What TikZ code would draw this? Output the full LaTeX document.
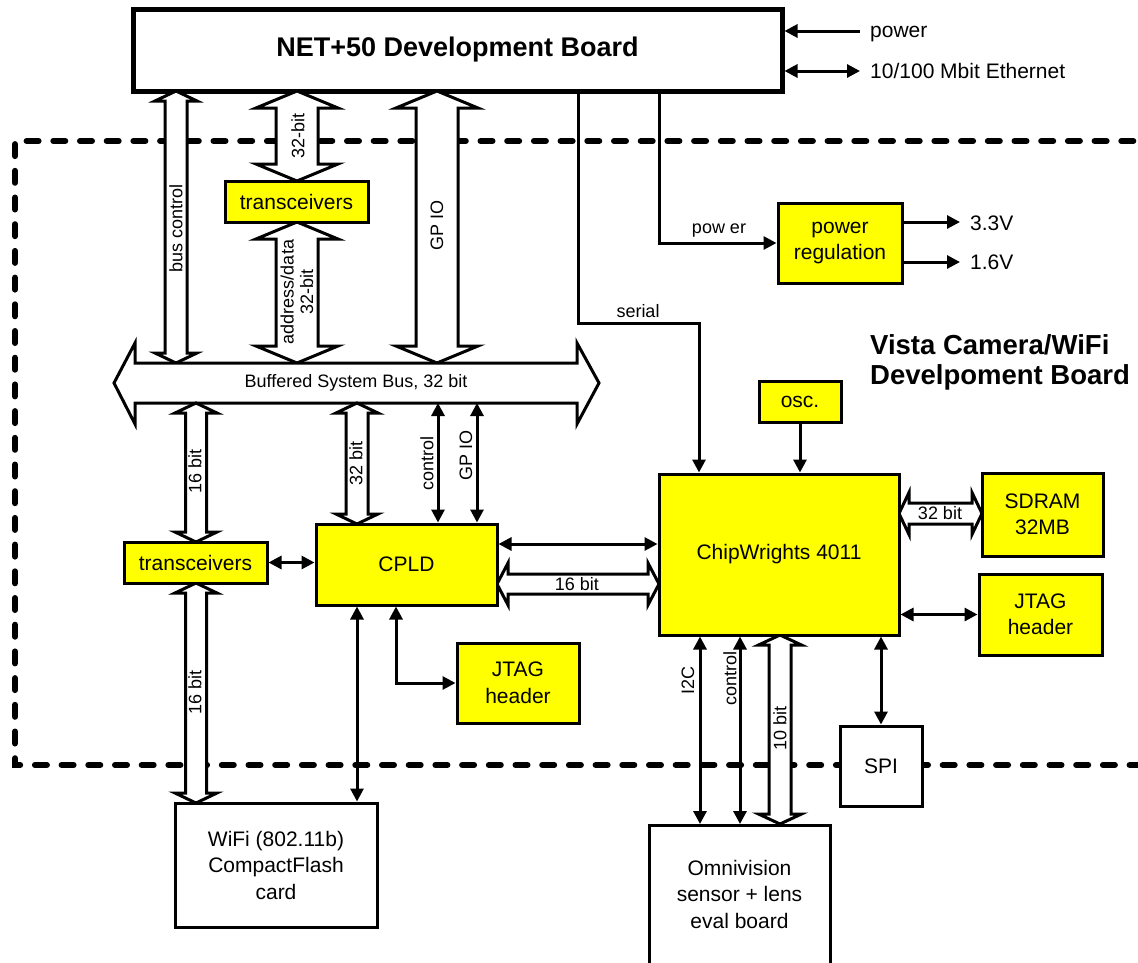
\documentclass[tikz,border=0pt]{standalone}
\usepackage{fontspec}
\setmainfont{Liberation Sans}
\usetikzlibrary{arrows.meta,calc}
\definecolor{chipyellow}{RGB}{255,255,0}
\newcommand{\fmain}{\fontsize{21}{26.5}\selectfont}
\newcommand{\fsmall}{\fontsize{18}{19.5}\selectfont}
\newcommand{\hollowV}[6]{% x, ytop, ybot, shaft half width, head half width, head length
  \filldraw[hollow] (#1,#2) -- (#1+#5,#2+#6) -- (#1+#4,#2+#6) -- (#1+#4,#3-#6) -- (#1+#5,#3-#6) -- (#1,#3) -- (#1-#5,#3-#6) -- (#1-#4,#3-#6) -- (#1-#4,#2+#6) -- (#1-#5,#2+#6) -- cycle;}
\newcommand{\hollowH}[6]{% y, xleft, xright, shaft half height, head half height, head length
  \filldraw[hollow] (#2,#1) -- (#2+#6,#1-#5) -- (#2+#6,#1-#4) -- (#3-#6,#1-#4) -- (#3-#6,#1-#5) -- (#3,#1) -- (#3-#6,#1+#5) -- (#3-#6,#1+#4) -- (#2+#6,#1+#4) -- (#2+#6,#1+#5) -- cycle;}
\begin{document}
\begin{tikzpicture}[x=1pt,y=-1pt,
  >={Triangle[length=13pt,width=13pt]},
  conn/.style={line width=3pt},
  hollow/.style={draw=black,fill=white,line width=3pt,line join=miter},
  ybox/.style={draw,line width=3pt,fill=chipyellow,inner sep=0pt,align=center,font=\fmain},
  wbox/.style={draw,line width=3pt,fill=white,inner sep=0pt,align=center,font=\fmain},
  lbl/.style={inner sep=0pt,font=\fsmall,align=center},
  lblm/.style={inner sep=0pt,font=\fmain},
  boardline/.style={line width=6pt,dash pattern=on 12pt off 14.7pt,line cap=round}]
\useasboundingbox (0,0) rectangle (1138,962);

% camera board outline
\draw[boardline] (1160,141) -- (15,141) -- (15,765) -- (1160,765);

% NET+50 board
\node[draw,line width=5pt,fill=white,minimum width=649pt,minimum height=82pt,inner sep=0pt,
      font=\fontsize{27}{30}\selectfont\bfseries] (net) at (457.5,50) {NET+50 Development Board};

% hollow buses above the system bus
\hollowV{176}{91}{363}{11}{21}{10}
\hollowV{297}{91}{181}{21}{41}{17}
\hollowV{297}{222}{363}{21}{41}{17}
\hollowV{437}{91}{363}{21}{41}{17}

% system bus
\filldraw[hollow] (114,383) -- (135,343) -- (135,363) -- (577,363) -- (577,343) -- (599,383)
  -- (577,424) -- (577,403) -- (135,403) -- (135,424) -- cycle;
\node[lbl] (buslbl) at (356,383) {Buffered System Bus, 32 bit};

% hollow buses below
\hollowV{196}{403}{542}{10.5}{21}{10}
\hollowV{196}{583}{803}{10.5}{21}{10}
\hollowV{357}{403}{524}{11}{21}{10}
\hollowV{780}{635}{824}{11}{21.5}{10}
\hollowH{584}{497}{659}{10}{21}{11}
\hollowH{513.5}{899}{982}{10.5}{21}{10}

% boxes
\node[ybox,minimum width=143pt,minimum height=41pt] (trA) at (296.5,201.5) {transceivers};
\node[ybox,minimum width=124pt,minimum height=80pt] (pwr) at (840,243) {power\\regulation};
\node[ybox,minimum width=82pt,minimum height=41pt] (osc) at (800,401.5) {osc.};
\node[ybox,minimum width=240pt,minimum height=161pt] (cw) at (779,554.5) {ChipWrights 4011};
\node[ybox,minimum width=121pt,minimum height=83pt] (sdram) at (1042.5,514.5) {SDRAM\\32MB};
\node[ybox,minimum width=123pt,minimum height=81pt] (jtagR) at (1040.5,614.5) {JTAG\\header};
\node[ybox,minimum width=143pt,minimum height=41pt] (trB) at (195.5,562.5) {transceivers};
\node[ybox,minimum width=181pt,minimum height=81pt] (cpld) at (406.5,564.5) {CPLD};
\node[ybox,minimum width=122pt,minimum height=80pt] (jtagL) at (518,683) {JTAG\\header};
\node[wbox,minimum width=202pt,minimum height=124pt] (wifi) at (276,865) {WiFi (802.11b)\\CompactFlash\\card};
\node[wbox,minimum width=82pt,minimum height=80pt] (spi) at (881,766) {SPI};
\node[wbox,anchor=north,minimum width=181pt,minimum height=200pt] (omni) at (739.5,824) {};
\node[lblm,align=center] (omnitxt) at (739.5,894) {Omnivision\\sensor + lens\\eval board};

% labels on hollow buses
\node[lbl,rotate=90] at (176,228) {bus control};
\node[lbl,rotate=90] at (298,136) {32-bit};
\node[lbl,rotate=90] at (297,292) {address/data\\32-bit};
\node[lbl,rotate=90] at (437,225) {GP IO};
\node[lbl,rotate=90] at (195,471) {16 bit};
\node[lbl,rotate=90] at (195,692) {16 bit};
\node[lbl,rotate=90] at (356,463) {32 bit};
\node[lbl,rotate=90] at (427,463) {control};
\node[lbl,rotate=90] at (466,455) {GP IO};
\node[lbl] at (577,584) {16 bit};
\node[lbl] at (940,513.5) {32 bit};
\node[lbl,rotate=90] at (688,680) {I2C};
\node[lbl,rotate=90] at (730,678) {control};
\node[lbl,rotate=90] at (780,728) {10 bit};

% external connections of the NET+50 board
\coordinate (pin) at (860,31);
\coordinate (ein) at (860,71);
\draw[conn,->] (pin) -- (pin -| net.east);
\draw[conn,<->] (ein -| net.east) -- (ein);
\node[lblm,anchor=base west] at (870,37) {power};
\node[lblm,anchor=base west] at (870,78) {10/100 Mbit Ethernet};

% serial
\coordinate (s1) at (578,323);
\coordinate (s2) at (699,323);
\draw[conn,->] (s1 |- net.south) -- (s1) -- (s2) -- (s2 |- cw.north);
\node[lbl,anchor=base] at (638,317) {serial};

% power
\coordinate (p1) at (659,243);
\draw[conn,->] (p1 |- net.south) |- (pwr.west);
\node[lbl,anchor=base] at (719,233) {pow er};
\coordinate (v33) at (960,222);
\coordinate (v16) at (960,262);
\draw[conn,->] (v33 -| pwr.east) -- (v33);
\draw[conn,->] (v16 -| pwr.east) -- (v16);
\node[lblm,anchor=base west] at (970,230) {3.3V};
\node[lblm,anchor=base west] at (970,269) {1.6V};

% ChipWrights connections
\draw[conn,->] (osc.south) -- (osc.south |- cw.north);
\draw[conn,<->] (jtagR.west -| cw.east) -- (jtagR.west);
\draw[conn,<->] (spi.north |- cw.south) -- (spi.north);
\coordinate (i2c) at (700,700);
\coordinate (ctl) at (740,700);
\draw[conn,<->] (i2c |- cw.south) -- (i2c |- omni.north);
\draw[conn,<->] (ctl |- cw.south) -- (ctl |- omni.north);

% CPLD connections
\draw[conn,<->] (trB.east) -- (trB.east -| cpld.west);
\coordinate (cc) at (600,544);
\draw[conn,<->] (cc -| cpld.east) -- (cc -| cw.west);
\coordinate (cwf) at (357,700);
\draw[conn,<->] (cwf |- cpld.south) -- (cwf |- wifi.north);
\coordinate (cj) at (396,683);
\draw[conn,<->] (cj |- cpld.south) |- (jtagL.west);
\coordinate (bc) at (438,403);
\coordinate (bg) at (477,403);
\draw[conn,<->] (bc) -- (bc |- cpld.north);
\draw[conn,<->] (bg) -- (bg |- cpld.north);

% title of camera board
\node[inner sep=0pt,anchor=north west,align=left,font=\fontsize{27.5}{29.5}\selectfont\bfseries] (vista) at (870,334.5)
  {Vista Camera/WiFi\\Develpoment Board};
\end{tikzpicture}
\end{document}
